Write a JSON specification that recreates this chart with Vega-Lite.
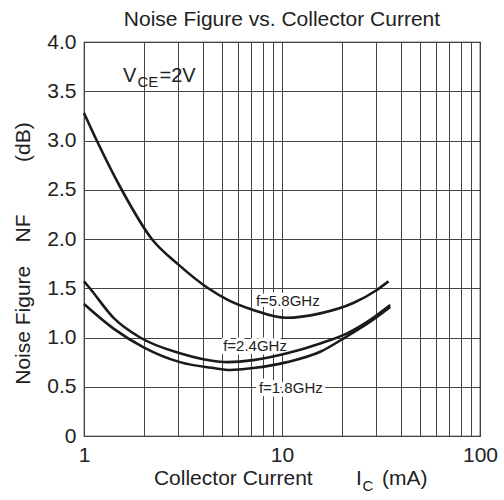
{
  "$schema": "https://vega.github.io/schema/vega-lite/v6.json",
  "width": 396,
  "height": 394,
  "autosize": {"type": "none"},
  "padding": {"left": 84, "top": 42, "right": 24, "bottom": 64},
  "background": "white",
  "config": {
    "font": "Liberation Sans",
    "view": {"stroke": "#111", "strokeWidth": 1.2},
    "axis": {"labelFont": "Liberation Sans", "titleFont": "Liberation Sans", "labelColor": "#222", "titleColor": "#222"}
  },
  "title": {
    "text": "Noise Figure vs. Collector Current",
    "fontSize": 21,
    "font": "Liberation Sans",
    "fontWeight": "normal",
    "color": "#222",
    "anchor": "middle",
    "offset": 1
  },
  "datasets": {
    "curves": [
      {"f": "5.8GHz", "ic": 1.0, "nf": 3.28},
      {"f": "5.8GHz", "ic": 1.16, "nf": 3.0},
      {"f": "5.8GHz", "ic": 1.55, "nf": 2.5},
      {"f": "5.8GHz", "ic": 2.2, "nf": 2.0},
      {"f": "5.8GHz", "ic": 3.0, "nf": 1.74},
      {"f": "5.8GHz", "ic": 4.24, "nf": 1.5},
      {"f": "5.8GHz", "ic": 5.35, "nf": 1.38},
      {"f": "5.8GHz", "ic": 7.16, "nf": 1.28},
      {"f": "5.8GHz", "ic": 10.5, "nf": 1.2},
      {"f": "5.8GHz", "ic": 15.6, "nf": 1.245},
      {"f": "5.8GHz", "ic": 22.9, "nf": 1.35},
      {"f": "5.8GHz", "ic": 30.0, "nf": 1.48},
      {"f": "5.8GHz", "ic": 34.5, "nf": 1.57},
      {"f": "2.4GHz", "ic": 1.0, "nf": 1.57},
      {"f": "2.4GHz", "ic": 1.07, "nf": 1.5},
      {"f": "2.4GHz", "ic": 1.41, "nf": 1.2},
      {"f": "2.4GHz", "ic": 1.92, "nf": 1.0},
      {"f": "2.4GHz", "ic": 3.05, "nf": 0.84},
      {"f": "2.4GHz", "ic": 4.0, "nf": 0.78},
      {"f": "2.4GHz", "ic": 5.35, "nf": 0.75},
      {"f": "2.4GHz", "ic": 7.16, "nf": 0.77},
      {"f": "2.4GHz", "ic": 10.6, "nf": 0.84},
      {"f": "2.4GHz", "ic": 15.6, "nf": 0.94},
      {"f": "2.4GHz", "ic": 21.2, "nf": 1.04},
      {"f": "2.4GHz", "ic": 27.9, "nf": 1.18},
      {"f": "2.4GHz", "ic": 35.2, "nf": 1.33},
      {"f": "1.8GHz", "ic": 1.0, "nf": 1.34},
      {"f": "1.8GHz", "ic": 1.41, "nf": 1.09},
      {"f": "1.8GHz", "ic": 2.0, "nf": 0.9},
      {"f": "1.8GHz", "ic": 3.05, "nf": 0.75},
      {"f": "1.8GHz", "ic": 4.5, "nf": 0.69},
      {"f": "1.8GHz", "ic": 5.5, "nf": 0.67},
      {"f": "1.8GHz", "ic": 7.16, "nf": 0.69},
      {"f": "1.8GHz", "ic": 10.6, "nf": 0.75},
      {"f": "1.8GHz", "ic": 15.6, "nf": 0.855},
      {"f": "1.8GHz", "ic": 21.2, "nf": 1.01},
      {"f": "1.8GHz", "ic": 27.9, "nf": 1.16},
      {"f": "1.8GHz", "ic": 35.2, "nf": 1.31}
    ],
    "labels": [
      {"label": "f=5.8GHz", "ic": 10.7, "nf": 1.37},
      {"label": "f=2.4GHz", "ic": 7.31, "nf": 0.916},
      {"label": "f=1.8GHz", "ic": 11.08, "nf": 0.492}
    ]
  },
  "layer": [
    {
      "data": {"name": "labels"},
      "mark": {"type": "text", "fontSize": 15, "stroke": "white", "strokeWidth": 7, "strokeJoin": "round", "color": "white", "baseline": "middle"},
      "encoding": {
        "x": {
          "field": "ic", "type": "quantitative",
          "scale": {"type": "log", "domain": [1, 100], "nice": false},
          "axis": {
            "values": [1, 2, 3, 4, 5, 6, 7, 8, 9, 10, 20, 30, 40, 50, 60, 70, 80, 90, 100],
            "labelExpr": "datum.value == 1 || datum.value == 10 || datum.value == 100 ? datum.value : ''",
            "ticks": false, "domain": false,
            "grid": true, "gridColor": "#444", "gridWidth": 1, "gridOpacity": 1,
            "labelFontSize": 21, "labelPadding": 8, "labelFlush": false,
            "title": null
          }
        },
        "y": {
          "field": "nf", "type": "quantitative",
          "scale": {"domain": [0, 4], "nice": false},
          "axis": {
            "values": [0, 0.5, 1, 1.5, 2, 2.5, 3, 3.5, 4],
            "labelExpr": "datum.value == 0 ? '0' : format(datum.value, '.1f')",
            "ticks": false, "domain": false,
            "grid": true, "gridColor": "#444", "gridWidth": 1, "gridOpacity": 1,
            "labelFontSize": 21, "labelPadding": 8,
            "title": "Noise Figure\u00a0\u00a0\u00a0\u00a0NF\u00a0\u00a0\u00a0\u00a0\u00a0\u00a0\u00a0\u00a0\u00a0(dB)",
            "titleFontSize": 21, "titleFontWeight": "normal",
            "titleAngle": -90, "titleAlign": "center", "titleBaseline": "middle",
            "titleX": -61, "titleY": 211
          }
        },
        "text": {"field": "label"}
      }
    },
    {
      "data": {"name": "curves"},
      "mark": {"type": "line", "interpolate": "monotone", "color": "#1a1a1a", "strokeWidth": 2.6},
      "encoding": {
        "x": {"field": "ic", "type": "quantitative"},
        "y": {"field": "nf", "type": "quantitative"},
        "detail": {"field": "f"}
      }
    },
    {
      "data": {"name": "labels"},
      "mark": {"type": "text", "fontSize": 15, "color": "#222", "baseline": "middle"},
      "encoding": {
        "x": {"field": "ic", "type": "quantitative"},
        "y": {"field": "nf", "type": "quantitative"},
        "text": {"field": "label"}
      }
    },
    {
      "data": {"values": [{}]},
      "mark": {"type": "text", "text": "V", "fontSize": 20, "color": "#222", "align": "left", "baseline": "alphabetic"},
      "encoding": {"x": {"datum": 1.574}, "y": {"datum": 3.597}}
    },
    {
      "data": {"values": [{}]},
      "mark": {"type": "text", "text": "CE", "fontSize": 15, "color": "#222", "align": "left", "baseline": "alphabetic"},
      "encoding": {"x": {"datum": 1.863}, "y": {"datum": 3.546}}
    },
    {
      "data": {"values": [{}]},
      "mark": {"type": "text", "text": "=2V", "fontSize": 20, "color": "#222", "align": "left", "baseline": "alphabetic"},
      "encoding": {"x": {"datum": 2.406}, "y": {"datum": 3.597}}
    },
    {
      "data": {"values": [{}]},
      "mark": {"type": "text", "text": "Collector Current", "fontSize": 21, "color": "#222", "align": "center", "baseline": "alphabetic"},
      "encoding": {"x": {"datum": 5.676}, "y": {"datum": -0.497}}
    },
    {
      "data": {"values": [{}]},
      "mark": {"type": "text", "text": "I", "fontSize": 21, "color": "#222", "align": "left", "baseline": "alphabetic"},
      "encoding": {"x": {"datum": 23.64}, "y": {"datum": -0.497}}
    },
    {
      "data": {"values": [{}]},
      "mark": {"type": "text", "text": "C", "fontSize": 15, "color": "#222", "align": "left", "baseline": "alphabetic"},
      "encoding": {"x": {"datum": 25.5}, "y": {"datum": -0.555}}
    },
    {
      "data": {"values": [{}]},
      "mark": {"type": "text", "text": "(mA)", "fontSize": 21, "color": "#222", "align": "left", "baseline": "alphabetic"},
      "encoding": {"x": {"datum": 31.99}, "y": {"datum": -0.497}}
    }
  ]
}
